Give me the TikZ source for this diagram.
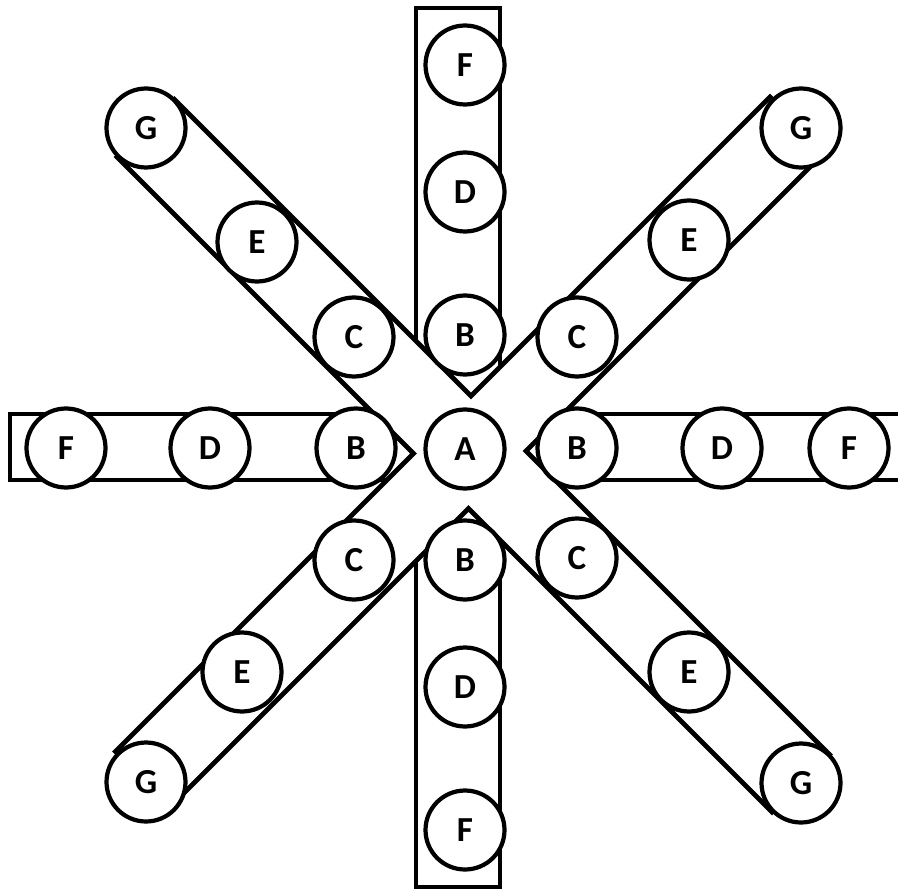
\documentclass[tikz,border=0pt]{standalone}
\usepackage{fontspec}
\setmainfont{Carlito}
\tikzset{
  bar/.style={draw, fill=white, line width=2.7pt, line join=miter},
  ring/.style={draw, circle, fill=white, line width=2.4pt, minimum size=1.58cm, inner sep=0pt, font=\bfseries\fontsize{20}{20}\selectfont}
}
\begin{document}
\begin{tikzpicture}[x=0.02cm, y=-0.02cm]
  \clip (0,0) rectangle (898,891);
  \draw[bar] (416,8) rectangle (500,887);
  \draw[bar] (10,414) rectangle (930,480);
  \draw[bar] (174.5,99.5) -- (471,396) -- (770,97) -- (825,152) -- (526,451)
    -- (829.5,754.5) -- (772,812) -- (468.5,508.5) -- (170.5,806.5)
    -- (115.5,751.5) -- (413.5,453.5) -- (117,157) -- cycle;
  \node[ring] (nA) at (465,449) {A};
  \node[ring] (bN) at (465,335) {B};
  \node[ring] (dN) at (465,192) {D};
  \node[ring] (fN) at (465,65) {F};
  \node[ring] (bS) at (465,560) {B};
  \node[ring] (dS) at (465,687) {D};
  \node[ring] (fS) at (465,830) {F};
  \node[ring] (bW) at (356,448) {B};
  \node[ring] (dW) at (210,448) {D};
  \node[ring] (fW) at (66,448) {F};
  \node[ring] (bE) at (577,448) {B};
  \node[ring] (dE) at (722,448) {D};
  \node[ring] (fE) at (849,448) {F};
  \node[ring] (cNW) at (354,337) {C};
  \node[ring] (eNW) at (257,242) {E};
  \node[ring] (gNW) at (146,128) {G};
  \node[ring] (cNE) at (577,337) {C};
  \node[ring] (eNE) at (689,240) {E};
  \node[ring] (gNE) at (801,128) {G};
  \node[ring] (cSW) at (354,560) {C};
  \node[ring] (eSW) at (242,672) {E};
  \node[ring] (gSW) at (146,782) {G};
  \node[ring] (cSE) at (577,558) {C};
  \node[ring] (eSE) at (689,672) {E};
  \node[ring] (gSE) at (801,783) {G};
\end{tikzpicture}
\end{document}
